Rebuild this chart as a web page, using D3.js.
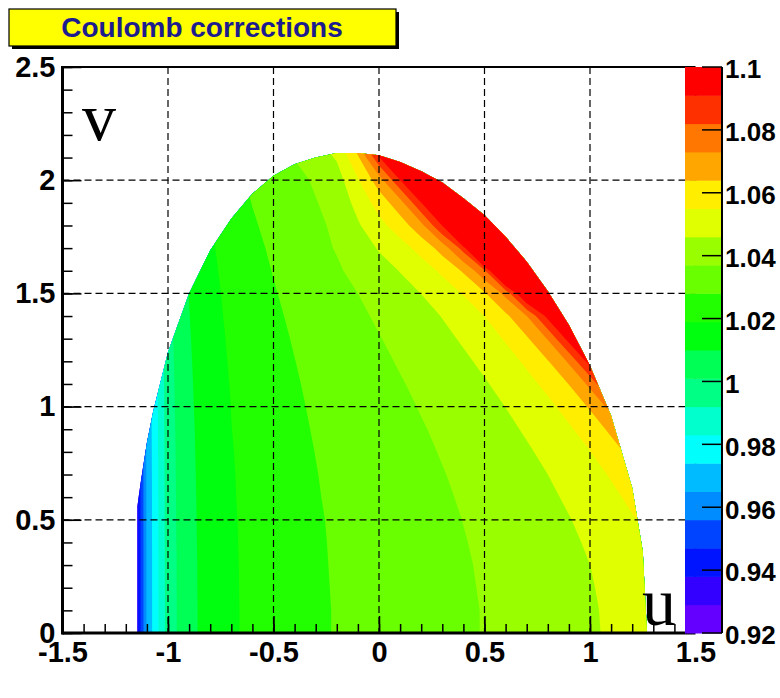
<!DOCTYPE html>
<html>
<head>
<meta charset="utf-8">
<script src="https://cdn.jsdelivr.net/npm/d3@7"></script>
<style>
  body { margin: 0; background: #ffffff; }
  svg { display: block; }
</style>
</head>
<body>
<svg id="chart" width="780" height="698"></svg>
<script>
// Dalitz-plot grid nodes (u across, v up)
const uNodes = [-1.2, -1.1, -1.0, -0.9, -0.8, -0.7, -0.6, -0.5, -0.4, -0.3, -0.2, -0.1, 0.0,
                0.1, 0.2, 0.3, 0.4, 0.5, 0.6, 0.7, 0.8, 0.9, 1.0, 1.1, 1.2, 1.3];
const vNodes = [0.0, 0.1, 0.2, 0.3, 0.4, 0.5, 0.6, 0.7, 0.8, 0.9, 1.0, 1.1,
                1.2, 1.3, 1.4, 1.5, 1.6, 1.7, 1.8, 1.9, 2.0, 2.1, 2.2];

// Coulomb correction factor, one row per v node
const correction = [
  [0.9016,0.9666,0.9964,1.0075,1.0137,1.0178,1.0209,1.0232,1.0252,1.0269,1.0284,1.0298,1.0311,1.0323,1.0336,1.0348,1.0360,1.0373,1.0386,1.0400,1.0416,1.0432,1.0450,1.0470,1.0493,1.0519],
  [0.9016,0.9666,0.9964,1.0075,1.0137,1.0178,1.0209,1.0232,1.0252,1.0269,1.0284,1.0298,1.0311,1.0323,1.0336,1.0348,1.0360,1.0373,1.0387,1.0401,1.0416,1.0433,1.0451,1.0472,1.0495,1.0521],
  [0.9016,0.9666,0.9965,1.0076,1.0138,1.0179,1.0209,1.0233,1.0253,1.0270,1.0285,1.0299,1.0312,1.0324,1.0337,1.0349,1.0362,1.0375,1.0389,1.0403,1.0419,1.0436,1.0455,1.0476,1.0500,1.0528],
  [0.9016,0.9666,0.9965,1.0076,1.0138,1.0179,1.0210,1.0234,1.0254,1.0271,1.0286,1.0300,1.0313,1.0326,1.0338,1.0351,1.0364,1.0377,1.0391,1.0406,1.0423,1.0440,1.0460,1.0483,1.0509,1.0539],
  [0.9017,0.9667,0.9966,1.0077,1.0139,1.0180,1.0211,1.0235,1.0255,1.0272,1.0287,1.0301,1.0315,1.0328,1.0341,1.0354,1.0367,1.0381,1.0396,1.0411,1.0428,1.0447,1.0469,1.0494,1.0523,1.0557],
  [0.9018,0.9668,0.9967,1.0078,1.0140,1.0181,1.0212,1.0236,1.0256,1.0273,1.0289,1.0304,1.0317,1.0330,1.0344,1.0357,1.0371,1.0385,1.0401,1.0418,1.0436,1.0457,1.0481,1.0509,1.0542,1.0583],
  [0.9018,0.9668,0.9968,1.0079,1.0141,1.0183,1.0213,1.0238,1.0258,1.0276,1.0291,1.0306,1.0320,1.0334,1.0347,1.0362,1.0376,1.0392,1.0408,1.0426,1.0447,1.0470,1.0497,1.0529,1.0570,1.0622],
  [0.9019,0.9669,0.9969,1.0080,1.0143,1.0184,1.0215,1.0240,1.0260,1.0278,1.0294,1.0309,1.0324,1.0338,1.0352,1.0367,1.0383,1.0399,1.0417,1.0437,1.0460,1.0486,1.0518,1.0558,1.0609,1.0681],
  [0.9021,0.9671,0.9970,1.0082,1.0144,1.0186,1.0218,1.0242,1.0263,1.0281,1.0298,1.0313,1.0328,1.0343,1.0358,1.0374,1.0390,1.0409,1.0429,1.0451,1.0477,1.0509,1.0548,1.0599,1.0669,1.0780],
  [0.9022,0.9672,0.9972,1.0083,1.0146,1.0189,1.0220,1.0245,1.0266,1.0285,1.0302,1.0318,1.0333,1.0349,1.0365,1.0382,1.0400,1.0420,1.0443,1.0469,1.0500,1.0539,1.0589,1.0659,1.0769,1.0981],
  [0.9024,0.9674,0.9974,1.0086,1.0149,1.0191,1.0223,1.0248,1.0270,1.0289,1.0307,1.0323,1.0340,1.0356,1.0374,1.0392,1.0412,1.0435,1.0461,1.0492,1.0530,1.0581,1.0650,1.0760,1.0971,1.1750],
  [0.9026,0.9676,0.9976,1.0088,1.0152,1.0194,1.0227,1.0252,1.0274,1.0294,1.0312,1.0330,1.0347,1.0365,1.0384,1.0404,1.0427,1.0453,1.0484,1.0523,1.0573,1.0642,1.0751,1.0962,1.1739,1.3560],
  [0.9028,0.9678,0.9979,1.0091,1.0155,1.0198,1.0230,1.0257,1.0279,1.0300,1.0319,1.0337,1.0356,1.0376,1.0397,1.0419,1.0446,1.0477,1.0515,1.0565,1.0635,1.0743,1.0954,1.1730,1.3550,1.3550],
  [0.9031,0.9681,0.9982,1.0094,1.0159,1.0202,1.0235,1.0262,1.0285,1.0307,1.0327,1.0346,1.0367,1.0388,1.0412,1.0439,1.0470,1.0508,1.0558,1.0628,1.0736,1.0946,1.1722,1.3540,1.3540,1.3540],
  [0.9034,0.9684,0.9985,1.0098,1.0163,1.0207,1.0240,1.0268,1.0292,1.0314,1.0336,1.0357,1.0380,1.0404,1.0431,1.0463,1.0501,1.0551,1.0621,1.0729,1.0939,1.1714,1.3540,1.3540,1.3540,1.3540],
  [0.9037,0.9687,0.9989,1.0102,1.0167,1.0212,1.0246,1.0275,1.0300,1.0324,1.0347,1.0370,1.0399,1.0428,1.0461,1.0502,1.0555,1.0630,1.0755,1.1049,1.1707,1.3540,1.3540,1.3540,1.3540,1.3540],
  [0.9041,0.9691,0.9993,1.0107,1.0173,1.0218,1.0253,1.0283,1.0310,1.0335,1.0360,1.0392,1.0427,1.0463,1.0507,1.0566,1.0651,1.0800,1.1236,1.1700,1.3540,1.3540,1.3540,1.3540,1.3540,1.3540],
  [0.9045,0.9695,0.9998,1.0113,1.0179,1.0225,1.0261,1.0292,1.0320,1.0348,1.0375,1.0417,1.0467,1.0515,1.0580,1.0677,1.0857,1.1462,1.1694,1.3540,1.3540,1.3540,1.3540,1.3540,1.3540,1.3540],
  [0.9050,0.9700,1.0003,1.0119,1.0186,1.0233,1.0271,1.0303,1.0325,1.0354,1.0385,1.0450,1.0523,1.0593,1.0703,1.0913,1.1687,1.2000,1.3540,1.3540,1.3540,1.3540,1.3540,1.3540,1.3540,1.3540],
  [0.9055,0.9705,1.0010,1.0126,1.0194,1.0243,1.0282,1.0317,1.0333,1.0366,1.0402,1.0488,1.0586,1.0696,1.0906,1.1680,1.2000,1.3540,1.3540,1.3540,1.3540,1.3540,1.3540,1.3540,1.3540,1.3540],
  [0.9061,0.9711,1.0017,1.0134,1.0204,1.0254,1.0295,1.0333,1.0344,1.0381,1.0421,1.0542,1.0688,1.0899,1.1673,1.2000,1.3540,1.3540,1.3540,1.3540,1.3540,1.3540,1.3540,1.3540,1.3540,1.3540],
  [0.9068,0.9718,1.0025,1.0144,1.0215,1.0267,1.0311,1.0352,1.0373,1.0417,1.0468,1.0625,1.0892,1.1665,1.2000,1.3540,1.3540,1.3540,1.3540,1.3540,1.3540,1.3540,1.3540,1.3540,1.3540,1.3540],
  [0.9076,0.9726,1.0034,1.0155,1.0228,1.0283,1.0331,1.0377,1.0402,1.0455,1.0522,1.0778,1.1657,1.2000,1.3540,1.3540,1.3540,1.3540,1.3540,1.3540,1.3540,1.3540,1.3540,1.3540,1.3540,1.3540]
];

// Kinematic boundary of the populated region (upper half, v >= 0)
const boundaryU = [-1.145, -1.145, -1.13, -1.10, -1.07, -1.0, -0.9, -0.8, -0.7, -0.6, -0.5, -0.4, -0.3,
                   -0.2, -0.1, 0.0, 0.1, 0.2, 0.3, 0.4, 0.5, 0.6, 0.7, 0.8, 0.9, 1.0, 1.1, 1.2, 1.25, 1.27];
const boundaryV = [0.0, 0.56, 0.66, 0.84, 0.98, 1.24, 1.50, 1.69, 1.83, 1.94, 2.02, 2.07, 2.10,
                   2.12, 2.12, 2.11, 2.08, 2.04, 1.99, 1.92, 1.845, 1.75, 1.64, 1.51, 1.36, 1.18, 0.96, 0.64, 0.36, 0.0];

// Axes and colour scale
const xTicks = [-1.5, -1, -0.5, 0, 0.5, 1, 1.5];
const yTicks = [0, 0.5, 1, 1.5, 2, 2.5];
const zTicks = [0.92, 0.94, 0.96, 0.98, 1, 1.02, 1.04, 1.06, 1.08, 1.1];
const zMin = 0.92, zMax = 1.1, nLevels = 20;
const titleText = "Coulomb corrections";

const svg = d3.select("#chart");
const x = d3.scaleLinear([-1.5, 1.5], [62.5, 695.5]);
const y = d3.scaleLinear([0, 2.5], [633, 67]);
const z = d3.scaleLinear([zMin, zMax], [633, 67]);

// "pretty" violet-to-red palette, 50 entries
const palette = d3.range(50).map(i => i === 49 ? "#ff0000" : d3.hsl(280 - (i + 1) * 5.6, 1, 0.5).formatHex());
const levels = d3.range(nLevels + 1).map(k => zMin + k * (zMax - zMin) / nLevels);
const bandColor = k => palette[Math.floor((k + 0.99) * palette.length / nLevels)];

const font = "'Liberation Sans', Arial, Helvetica, sans-serif";

// Title box with shadow
const tg = svg.append("g");
tg.append("rect").attr("x", 12).attr("y", 12).attr("width", 387).attr("height", 37).attr("fill", "#000");
tg.append("rect").attr("x", 9).attr("y", 9).attr("width", 387).attr("height", 37)
  .attr("fill", "#ffff00").attr("stroke", "#000").attr("stroke-width", 1.2);
tg.append("text").attr("x", 202).attr("y", 37).attr("text-anchor", "middle")
  .attr("font-family", font).attr("font-weight", "bold").attr("font-size", 28)
  .attr("fill", "#1c1c8e").text(titleText);

// Filled contour bands, clipped to the kinematic region
const defs = svg.append("defs");
const outline = d3.line().x(d => x(d[0])).y(d => y(d[1]));
const region = boundaryU.map((u, i) => [u, boundaryV[i]]);
defs.append("clipPath").attr("id", "region").append("path").attr("d", outline(region) + "Z");

const nu = uNodes.length, nv = vNodes.length;
const du = uNodes[1] - uNodes[0], dv = vNodes[1] - vNodes[0];
const bands = d3.contours().size([nu, nv]).thresholds(levels.slice(0, nLevels))(correction.flat());
const toPlot = d3.geoTransform({
  point(px, py) { this.stream.point(x(uNodes[0] + (px - 0.5) * du), y(vNodes[0] + (py - 0.5) * dv)); }
});
const geo = d3.geoPath(toPlot);
svg.append("g").attr("clip-path", "url(#region)")
  .selectAll("path").data(bands).join("path")
  .attr("d", geo).attr("fill", (d, i) => bandColor(i));

// Dashed grid
const grid = svg.append("g").attr("stroke", "#000").attr("stroke-width", 1.2).attr("stroke-dasharray", "7,4");
xTicks.slice(1, -1).forEach(t => grid.append("line").attr("x1", x(t)).attr("x2", x(t)).attr("y1", y(2.5)).attr("y2", y(0)));
yTicks.slice(1, -1).forEach(t => grid.append("line").attr("x1", x(-1.5)).attr("x2", x(1.5)).attr("y1", y(t)).attr("y2", y(t)));

// Frame and axes
const frame = svg.append("g").attr("stroke", "#000").attr("fill", "none");
frame.append("line").attr("x1", x(-1.5)).attr("x2", x(1.5)).attr("y1", y(2.5)).attr("y2", y(2.5)).attr("stroke-width", 2);
frame.append("line").attr("x1", x(1.5)).attr("x2", x(1.5)).attr("y1", y(2.5)).attr("y2", y(0)).attr("stroke-width", 2);

const xAxis = svg.append("g").attr("transform", `translate(0,${y(0)})`)
  .call(d3.axisBottom(x).tickValues(xTicks).tickSizeInner(-17).tickSizeOuter(0).tickPadding(8).tickFormat(d => String(d)));
const xMinor = svg.append("g").attr("transform", `translate(0,${y(0)})`)
  .call(d3.axisBottom(x).tickValues(d3.range(-15, 16).map(k => k / 10)).tickSizeInner(-9).tickSizeOuter(0).tickFormat(""));
const yAxis = svg.append("g").attr("transform", `translate(${x(-1.5)},0)`)
  .call(d3.axisLeft(y).tickValues(yTicks).tickSizeInner(-19).tickSizeOuter(0).tickPadding(7).tickFormat(d => String(d)));
const yMinor = svg.append("g").attr("transform", `translate(${x(-1.5)},0)`)
  .call(d3.axisLeft(y).tickValues(d3.range(0, 26).map(k => k / 10)).tickSizeInner(-10).tickSizeOuter(0).tickFormat(""));

[xAxis, xMinor, yAxis, yMinor].forEach(g => {
  g.select(".domain").remove();
  g.selectAll(".tick line").attr("stroke", "#000").attr("stroke-width", 1.5);
});
[xAxis, yAxis].forEach(g => g.selectAll(".tick text")
  .attr("font-family", font).attr("font-weight", "bold").attr("font-size", 29).attr("fill", "#000"));
svg.append("line").attr("x1", x(-1.5)).attr("x2", x(1.5)).attr("y1", y(0)).attr("y2", y(0)).attr("stroke", "#000").attr("stroke-width", 3);
svg.append("line").attr("x1", x(-1.5)).attr("x2", x(-1.5)).attr("y1", y(2.5) - 1).attr("y2", y(0) + 1.5).attr("stroke", "#000").attr("stroke-width", 3);

// Variable names
svg.append("text").attr("x", 82).attr("y", 140).attr("font-family", "'Liberation Serif', 'Times New Roman', serif")
  .attr("font-size", 68).attr("fill", "#000").text("v");
svg.append("text").attr("x", 642).attr("y", 625).attr("font-family", "'Liberation Serif', 'Times New Roman', serif")
  .attr("font-size", 68).attr("fill", "#000").text("u");

// Colour bar
const bar = svg.append("g");
bar.selectAll("rect").data(d3.range(nLevels)).join("rect")
  .attr("x", 685).attr("width", 37)
  .attr("y", k => z(levels[k + 1]))
  .attr("height", k => z(levels[k]) - z(levels[k + 1]) + 0.5)
  .attr("fill", k => bandColor(k));
bar.append("line").attr("x1", 722).attr("x2", 722).attr("y1", 67).attr("y2", 633).attr("stroke", "#000").attr("stroke-width", 2);
bar.selectAll("line.zt").data(zTicks).join("line").attr("class", "zt")
  .attr("x1", 702).attr("x2", 722).attr("y1", d => z(d)).attr("y2", d => z(d))
  .attr("stroke", "#000").attr("stroke-width", 1.5);
bar.selectAll("text").data(zTicks).join("text")
  .attr("x", 725).attr("y", d => z(d) + 2).attr("dy", "0.36em")
  .attr("font-family", font).attr("font-weight", "bold").attr("font-size", 26).attr("fill", "#000")
  .text(d => String(d));
</script>
</body>
</html>
